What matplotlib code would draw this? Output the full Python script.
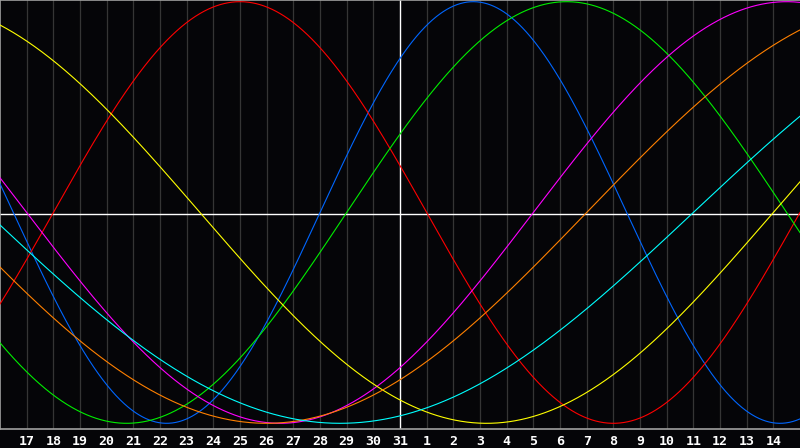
import matplotlib
matplotlib.use("Agg")
import matplotlib.pyplot as plt
import numpy as np

# Days shown along the axis (index 0 is the left edge)
days = [16, 17, 18, 19, 20, 21, 22, 23, 24, 25, 26, 27, 28, 29, 30, 31,
        1, 2, 3, 4, 5, 6, 7, 8, 9, 10, 11, 12, 13, 14, 15]
today_index = 15  # day 31

# Biorhythm cycles: length in days and the day index where each cycle crosses zero upward
cycle_names = ["physical", "emotional", "intellectual", "intuitive",
               "aesthetic", "awareness", "spiritual"]
cycle_lengths = [23, 28, 33, 38, 43, 48, 53]
zero_up_index = [12, 2, 13, 20, 29, 22, 26]
cycle_colors = ["#0066ff", "#ff0000", "#00ee00", "#ff00ff",
                "#ffff00", "#ff8000", "#00ffff"]

bg = "#050508"
fig = plt.figure(figsize=(8, 4.48), dpi=100, facecolor=bg)
ax = fig.add_axes([0, (448 - 429) / 448, 1, 429 / 448])
ax.set_facecolor(bg)

n = len(days) - 1
ax.set_xlim(0, n)
ax.set_ylim(-1.027, 1.008)

for i in range(1, n):
    if i == today_index:
        continue
    ax.axvline(i, color="#353535", lw=0.9, zorder=1)
ax.axvline(today_index, color="#ffffff", lw=1.0, zorder=2)
ax.axhline(-0.007, color="#ffffff", lw=1.0, zorder=2)

xs = np.linspace(0, n, 1200)
for L, z, c in zip(cycle_lengths, zero_up_index, cycle_colors):
    ys = np.sin(2 * np.pi * (xs - z) / L)
    ax.plot(xs, ys, color=c, lw=0.8, zorder=3)

ax.set_xticks(range(1, n))
ax.set_xticklabels([str(d) for d in days[1:n]], color="white",
                   fontsize=9.5, fontweight="bold", family="DejaVu Sans Mono")
ax.tick_params(axis="x", length=0, pad=4)
ax.set_yticks([])

ax.spines["right"].set_visible(False)
for side in ["top", "left", "bottom"]:
    ax.spines[side].set_color("#a0a0a0")
    ax.spines[side].set_linewidth(1.2)

fig.savefig("out.png", dpi=100, facecolor=bg)
